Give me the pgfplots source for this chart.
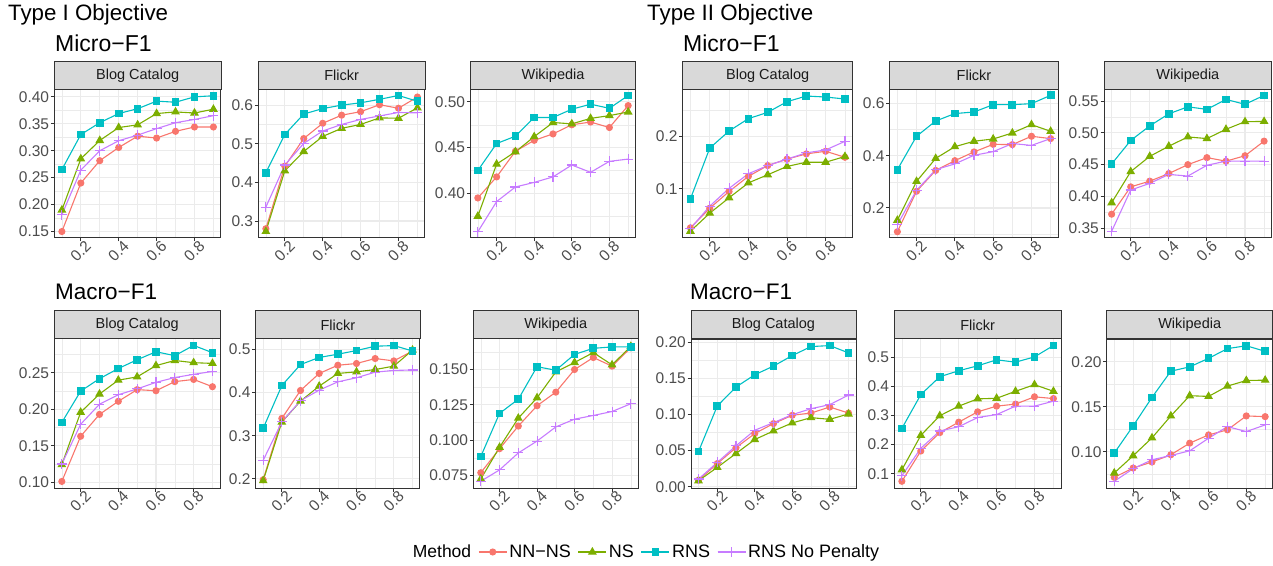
\documentclass[border=0pt]{standalone}
\usepackage{fontspec}
\setmainfont{Liberation Sans}
\usepackage{pgfplots}
\usepackage{pgfplotstable}
\pgfplotsset{compat=1.18}

\definecolor{cA}{HTML}{F8766D}
\definecolor{cB}{HTML}{7CAE00}
\definecolor{cC}{HTML}{00BFC4}
\definecolor{cD}{HTML}{C77CFF}
\definecolor{gridgray}{HTML}{EBEBEB}
\definecolor{gray20}{HTML}{333333}
\definecolor{gray30}{HTML}{4D4D4D}
\definecolor{gray10}{HTML}{1A1A1A}
\definecolor{stripgray}{HTML}{D9D9D9}

% columns: x, NN-NS, NS, RNS, RNS No Penalty
\pgfplotstableread{
x   nn     ns     rns    np
0.1 0.150  0.190  0.265  0.181
0.2 0.240  0.285  0.330  0.264
0.3 0.2815 0.319  0.352  0.300
0.4 0.306  0.343  0.369  0.3185
0.5 0.327  0.348  0.378  0.329
0.6 0.3235 0.369  0.392  0.341
0.7 0.336  0.372  0.390  0.352
0.8 0.344  0.370  0.400  0.358
0.9 0.344  0.377  0.402  0.365
}\tA
\pgfplotstableread{
x   nn     ns     rns    np
0.1 0.280  0.273  0.425  0.336
0.2 0.442  0.430  0.524  0.445
0.3 0.5135 0.480  0.577  0.501
0.4 0.553  0.519  0.591  0.533
0.5 0.574  0.540  0.600  0.550
0.6 0.583  0.550  0.606  0.563
0.7 0.601  0.567  0.615  0.572
0.8 0.592  0.566  0.625  0.581
0.9 0.621  0.593  0.610  0.580
}\tB
\pgfplotstableread{
x   nn     ns     rns    np
0.1 0.395  0.375  0.425  0.358
0.2 0.418  0.432  0.4545 0.391
0.3 0.446  0.4455 0.4625 0.407
0.4 0.458  0.462  0.483  0.412
0.5 0.465  0.4775 0.483  0.418
0.6 0.475  0.476  0.492  0.431
0.7 0.478  0.482  0.4975 0.423
0.8 0.472  0.485  0.493  0.435
0.9 0.496  0.489  0.507  0.4375
}\tC
\pgfplotstableread{
x   nn     ns     rns    np
0.1 0.0255 0.019  0.081  0.024
0.2 0.063  0.0535 0.178  0.067
0.3 0.095  0.083  0.2108 0.101
0.4 0.124  0.1115 0.2344 0.129
0.5 0.1446 0.127  0.2465 0.1446
0.6 0.157  0.143  0.2669 0.157
0.7 0.167  0.151  0.2777 0.169
0.8 0.172  0.151  0.2758 0.1745
0.9 0.1605 0.162  0.272  0.191
}\tD
\pgfplotstableread{
x   nn     ns     rns    np
0.1 0.109  0.153  0.347  0.136
0.2 0.264  0.302  0.475  0.268
0.3 0.344  0.390  0.5335 0.347
0.4 0.3815 0.435  0.562  0.369
0.5 0.415  0.456  0.568  0.402
0.6 0.444  0.4645 0.596  0.416
0.7 0.443  0.4875 0.596  0.447
0.8 0.475  0.5195 0.600  0.440
0.9 0.466  0.494  0.632  0.466
}\tE
\pgfplotstableread{
x   nn     ns     rns    np
0.1 0.372  0.390  0.451  0.345
0.2 0.415  0.439  0.488  0.410
0.3 0.424  0.463  0.511  0.4205
0.4 0.436  0.479  0.530  0.4346
0.5 0.450  0.4936 0.541  0.432
0.6 0.461  0.491  0.537  0.449
0.7 0.4555 0.5056 0.5526 0.4555
0.8 0.464  0.5176 0.545  0.4555
0.9 0.487  0.518  0.559  0.4555
}\tF
\pgfplotstableread{
x   nn     ns     rns    np
0.1 0.101  0.124  0.182  0.125
0.2 0.163  0.196  0.225  0.1795
0.3 0.193  0.221  0.242  0.207
0.4 0.211  0.240  0.256  0.220
0.5 0.227  0.2445 0.268  0.228
0.6 0.2255 0.260  0.279  0.237
0.7 0.238  0.267  0.2736 0.2436
0.8 0.241  0.264  0.2877 0.248
0.9 0.231  0.263  0.2777 0.252
}\tG
\pgfplotstableread{
x   nn     ns     rns    np
0.1 0.198  0.196  0.317  0.243
0.2 0.340  0.3315 0.416  0.332
0.3 0.4046 0.380  0.4646 0.381
0.4 0.444  0.4146 0.481  0.4054
0.5 0.463  0.444  0.4885 0.4246
0.6 0.467  0.4477 0.497  0.434
0.7 0.4785 0.453  0.507  0.447
0.8 0.473  0.461  0.5085 0.451
0.9 0.496  0.498  0.496  0.452
}\tH
\pgfplotstableread{
x   nn     ns     rns    np
0.1 0.077  0.0726 0.0885 0.071
0.2 0.094  0.095  0.119  0.079
0.3 0.110  0.1156 0.129  0.091
0.4 0.1244 0.130  0.152  0.0994
0.5 0.134  0.1483 0.1495 0.1094
0.6 0.150  0.155  0.1607 0.1149
0.7 0.1585 0.162  0.165  0.1175
0.8 0.1524 0.1533 0.166  0.1203
0.9 0.1654 0.1664 0.166  0.1258
}\tI
\pgfplotstableread{
x   nn     ns     rns    np
0.1 0.009  0.0083 0.0487 0.0106
0.2 0.032  0.0267 0.1117 0.0336
0.3 0.054  0.046  0.138  0.0566
0.4 0.0736 0.0653 0.155  0.0782
0.5 0.0874 0.0772 0.167  0.0887
0.6 0.0989 0.0883 0.1816 0.0998
0.7 0.102  0.0956 0.194  0.108
0.8 0.1103 0.0933 0.1954 0.1136
0.9 0.102  0.1007 0.1853 0.1269
}\tJ
\pgfplotstableread{
x   nn     ns     rns    np
0.1 0.074  0.1136 0.2557 0.093
0.2 0.178  0.2318 0.3716 0.1875
0.3 0.241  0.299  0.433  0.2466
0.4 0.277  0.332  0.4534 0.2614
0.5 0.3125 0.357  0.4705 0.293
0.6 0.332  0.359  0.491  0.303
0.7 0.339  0.383  0.483  0.332
0.8 0.364  0.4057 0.501  0.332
0.9 0.358  0.383  0.540  0.349
}\tK
\pgfplotstableread{
x   nn     ns     rns    np
0.1 0.0716 0.0764 0.0985 0.0672
0.2 0.0819 0.0956 0.1288 0.0812
0.3 0.0886 0.1155 0.1605 0.0911
0.4 0.0967 0.1399 0.1897 0.0959
0.5 0.1096 0.1624 0.1945 0.1011
0.6 0.1188 0.1616 0.204  0.1151
0.7 0.1244 0.1731 0.2148 0.128
0.8 0.1399 0.1793 0.218  0.1225
0.9 0.1391 0.1797 0.2118 0.1299
}\tL

\pgfplotsset{
  panel/.style={
    scale only axis, clip=false,
    xmin=0.06, xmax=0.94,
    xtick={0.2,0.4,0.6,0.8}, xticklabels={0.2,0.4,0.6,0.8},
    minor xtick={0.1,0.3,0.5,0.7,0.9},
    grid=both,
    major grid style={color=gridgray, line width=1.1pt},
    minor grid style={color=gridgray, line width=0.55pt},
    axis line style={color=gray20, line width=1pt},
    tick align=outside, xtick pos=bottom, ytick pos=left,
    major tick length=3.5pt, minor tick length=0pt,
    tick style={color=gray20, line width=1pt},
    ticklabel style={font=\fontsize{15.5}{15.5}\selectfont, text=gray30},
    xticklabel style={rotate=45, anchor=north east, inner sep=1pt, xshift=5pt},
    yticklabel style={anchor=east, inner sep=1.5pt},
  },
  nn/.style={cA, line width=1.1pt, mark=*, mark size=3pt},
  ns/.style={cB, line width=1.1pt, mark=triangle*, mark size=4pt},
  rns/.style={cC, line width=1.1pt, mark=square*, mark size=3.3pt},
  np/.style={cD, line width=1.1pt, mark=+, mark size=5pt},
}

% strip: left, right, bottom, label
\newcommand\strip[4]{%
  \draw[fill=stripgray, draw=gray20, line width=1pt] (#1,#3) rectangle (#2,#3+28);
  \node[font=\fontsize{14.5}{14.5}\selectfont, text=gray10] at ({(#1+#2)/2},#3+14) {#4};}

\newcommand\series[1]{%
  \addplot[nn] table[y=nn]{#1};
  \addplot[ns] table[y=ns]{#1};
  \addplot[rns] table[y=rns]{#1};
  \addplot[np] table[y=np]{#1};}

\begin{document}
\begin{tikzpicture}[x=1pt, y=1pt]
\useasboundingbox (0,0) rectangle (1273,565);

\node[anchor=base west, font=\fontsize{22.3}{22.3}\selectfont, inner sep=0] at (8,544) {Type I Objective};
\node[anchor=base west, font=\fontsize{22.3}{22.3}\selectfont, inner sep=0] at (647,544) {Type II Objective};
\node[anchor=base west, font=\fontsize{23}{23}\selectfont, inner sep=0] at (55,513) {Micro−F1};
\node[anchor=base west, font=\fontsize{23}{23}\selectfont, inner sep=0] at (683,513) {Micro−F1};
\node[anchor=base west, font=\fontsize{22.5}{22.5}\selectfont, inner sep=0] at (55,265) {Macro−F1};
\node[anchor=base west, font=\fontsize{22.5}{22.5}\selectfont, inner sep=0] at (690,265) {Macro−F1};

% ---- top row (Micro-F1)
\begin{axis}[panel, at={(54.3pt,327pt)}, anchor=south west, width=166.7pt, height=148.7pt,
  ymin=0.138, ymax=0.414, ytick={0.15,0.20,0.25,0.30,0.35,0.40},
  yticklabels={0.15,0.20,0.25,0.30,0.35,0.40}, minor ytick={0.175,0.225,0.275,0.325,0.375}]
\series{\tA}
\end{axis}
\begin{axis}[panel, at={(258.3pt,327pt)}, anchor=south west, width=166.7pt, height=148.7pt,
  ymin=0.256, ymax=0.641, ytick={0.3,0.4,0.5,0.6},
  yticklabels={0.3,0.4,0.5,0.6}, minor ytick={0.35,0.45,0.55}]
\series{\tB}
\end{axis}
\begin{axis}[panel, at={(470.3pt,327pt)}, anchor=south west, width=165.4pt, height=148.7pt,
  ymin=0.3512, ymax=0.5138, ytick={0.40,0.45,0.50},
  yticklabels={0.40,0.45,0.50}, minor ytick={0.375,0.425,0.475}]
\series{\tC}
\end{axis}
\begin{axis}[panel, at={(682.7pt,327pt)}, anchor=south west, width=170pt, height=148.7pt,
  ymin=0.006, ymax=0.2906, ytick={0.1,0.2},
  yticklabels={0.1,0.2}, minor ytick={0.05,0.15,0.25}]
\series{\tD}
\end{axis}
\begin{axis}[panel, at={(889.7pt,327pt)}, anchor=south west, width=168.6pt, height=148.7pt,
  ymin=0.085, ymax=0.655, ytick={0.2,0.4,0.6},
  yticklabels={0.2,0.4,0.6}, minor ytick={0.1,0.3,0.5}]
\series{\tE}
\end{axis}
\begin{axis}[panel, at={(1104pt,327pt)}, anchor=south west, width=167.7pt, height=148.7pt,
  ymin=0.3345, ymax=0.5686, ytick={0.35,0.40,0.45,0.50,0.55},
  yticklabels={0.35,0.40,0.45,0.50,0.55}, minor ytick={0.375,0.425,0.475,0.525}]
\series{\tF}
\end{axis}

% ---- bottom row (Macro-F1)
\begin{axis}[panel, at={(54.3pt,77pt)}, anchor=south west, width=165.7pt, height=149pt,
  ymin=0.092, ymax=0.2965, ytick={0.10,0.15,0.20,0.25},
  yticklabels={0.10,0.15,0.20,0.25}, minor ytick={0.125,0.175,0.225,0.275}]
\series{\tG}
\end{axis}
\begin{axis}[panel, at={(255.7pt,77pt)}, anchor=south west, width=164.3pt, height=149pt,
  ymin=0.179, ymax=0.5237, ytick={0.2,0.3,0.4,0.5},
  yticklabels={0.2,0.3,0.4,0.5}, minor ytick={0.25,0.35,0.45}]
\series{\tH}
\end{axis}
\begin{axis}[panel, at={(473.3pt,77pt)}, anchor=south west, width=165pt, height=149pt,
  ymin=0.0662, ymax=0.1716, ytick={0.075,0.100,0.125,0.150},
  yticklabels={0.075,0.100,0.125,0.150}, minor ytick={0.0875,0.1125,0.1375,0.1625}]
\series{\tI}
\end{axis}
\begin{axis}[panel, at={(691pt,77pt)}, anchor=south west, width=165pt, height=149pt,
  ymin=-0.0018, ymax=0.2045, ytick={0,0.05,0.10,0.15,0.20},
  yticklabels={0.00,0.05,0.10,0.15,0.20}, minor ytick={0.025,0.075,0.125,0.175}]
\series{\tJ}
\end{axis}
\begin{axis}[panel, at={(894.3pt,77pt)}, anchor=south west, width=166.7pt, height=149pt,
  ymin=0.051, ymax=0.5625, ytick={0.1,0.2,0.3,0.4,0.5},
  yticklabels={0.1,0.2,0.3,0.4,0.5}, minor ytick={0.15,0.25,0.35,0.45}]
\series{\tK}
\end{axis}
\begin{axis}[panel, at={(1106.7pt,77pt)}, anchor=south west, width=166pt, height=149pt,
  ymin=0.0597, ymax=0.2255, ytick={0.10,0.15,0.20},
  yticklabels={0.10,0.15,0.20}, minor ytick={0.075,0.125,0.175}]
\series{\tL}
\end{axis}

% facet strips
\strip{54.3}{221}{475.7}{Blog Catalog}
\strip{258.3}{425}{475.7}{Flickr}
\strip{470.3}{635.7}{475.7}{Wikipedia}
\strip{682.7}{852.7}{475.7}{Blog Catalog}
\strip{889.7}{1058.3}{475.7}{Flickr}
\strip{1104}{1271.7}{475.7}{Wikipedia}
\strip{54.3}{220}{226}{Blog Catalog}
\strip{255.7}{420}{226}{Flickr}
\strip{473.3}{638.3}{226}{Wikipedia}
\strip{691}{856}{226}{Blog Catalog}
\strip{894.3}{1061}{226}{Flickr}
\strip{1106.7}{1272.7}{226}{Wikipedia}

% legend
\begin{axis}[hide axis, scale only axis, width=10pt, height=10pt,
  at={(646pt,13pt)}, anchor=center, xmin=0, xmax=1, ymin=0, ymax=1,
  legend columns=-1,
  legend style={at={(0.5,0.5)}, anchor=center, draw=none, fill=none,
    font=\fontsize{18}{18}\selectfont, text=black,
    /tikz/every even column/.append style={column sep=5pt}},
  legend image code/.code={%
    \draw[#1] (0pt,0pt) -- (28pt,0pt);
    \draw[#1, mark repeat=2, mark phase=2] plot coordinates {(0pt,0pt) (14pt,0pt) (28pt,0pt)};}]
\addlegendimage{empty legend}
\addlegendentry{\fontsize{17.5}{17.5}\selectfont Method}
\addlegendimage{nn}
\addlegendentry{NN−NS}
\addlegendimage{ns}
\addlegendentry{NS}
\addlegendimage{rns}
\addlegendentry{RNS}
\addlegendimage{np}
\addlegendentry{RNS No Penalty}
\end{axis}
\end{tikzpicture}
\end{document}
